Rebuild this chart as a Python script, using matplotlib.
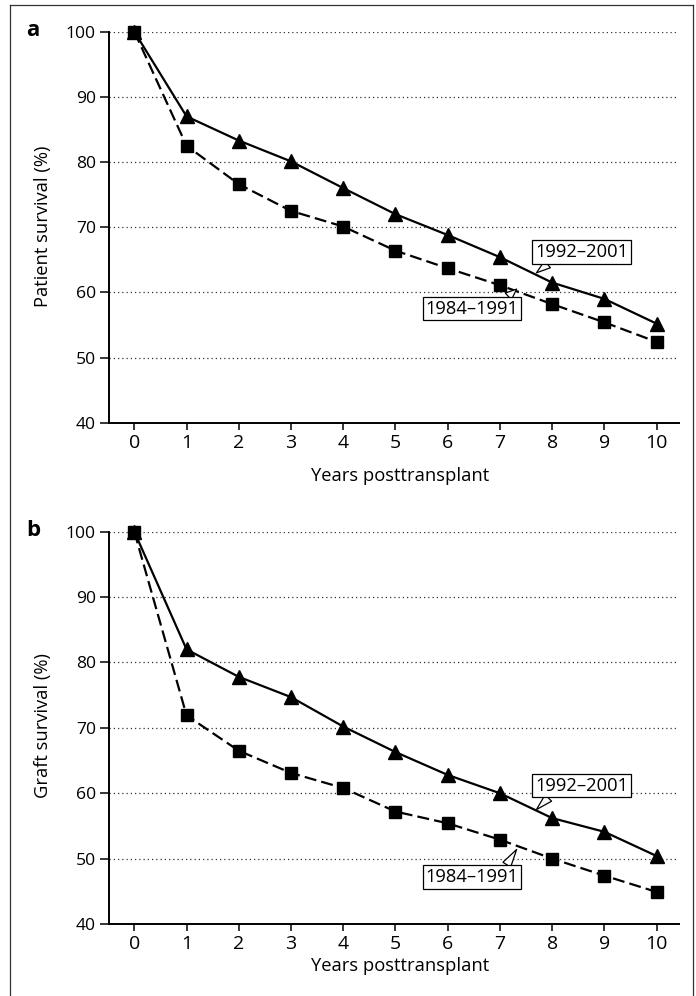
import matplotlib
matplotlib.use("Agg")
import matplotlib.pyplot as plt
from matplotlib.lines import Line2D

plt.rcParams['font.family'] = ['Open Sans', 'DejaVu Sans']

years = [0, 1, 2, 3, 4, 5, 6, 7, 8, 9, 10]
patient_1992_2001 = [100, 87.0, 83.3, 80.1, 76.0, 72.0, 68.8, 65.4, 61.5, 59.0, 55.2]
patient_1984_1991 = [100, 82.5, 76.6, 72.5, 70.1, 66.4, 63.7, 61.1, 58.2, 55.4, 52.4]
graft_1992_2001 = [100, 82.0, 77.8, 74.7, 70.2, 66.3, 62.8, 60.0, 56.2, 54.1, 50.4]
graft_1984_1991 = [100, 71.9, 66.5, 63.1, 60.8, 57.2, 55.4, 52.9, 50.0, 47.4, 44.9]
yticks = [40, 50, 60, 70, 80, 90, 100]
label_new = "1992\u20132001"
label_old = "1984\u20131991"

W, H = 696, 996
fig = plt.figure(figsize=(W / 100, H / 100), dpi=100)

YFS = 12.6
XFS = 14
LFS = 13.2
BOXFS = 13.2

def px(x, y):
    return x / W, 1 - y / H

def make_axes(top_px, bottom_px):
    left, right = 109, 679.3
    ax = fig.add_axes([left / W, 1 - bottom_px / H, (right - left) / W, (bottom_px - top_px) / H])
    ax.set_xlim(-0.485, 10.435)
    ax.set_ylim(40, 100)
    ax.set_xticks(years)
    ax.set_yticks(yticks)
    for s in ['top', 'right']:
        ax.spines[s].set_visible(False)
    for s in ['left', 'bottom']:
        ax.spines[s].set_linewidth(1.4)
    ax.tick_params(axis='x', length=5, width=1.1, pad=3, labelsize=XFS, direction='out')
    ax.tick_params(axis='y', length=6.5, width=1.1, pad=3, labelsize=YFS, direction='out')
    for yv in yticks[1:]:
        ax.axhline(yv, color='#333333', lw=0.9, linestyle=(0, (1, 2.4)), zorder=1)
    return ax

def draw_series(ax, new, old):
    ax.plot(years, new, color='black', lw=1.6, marker='^', markersize=10.5,
            markerfacecolor='black', markeredgecolor='black', clip_on=False, zorder=4)
    ax.plot(years, old, color='black', lw=1.6, linestyle=(0, (5.4, 2.3)), marker='s',
            markersize=8.6, markerfacecolor='black', markeredgecolor='black',
            clip_on=False, zorder=5)

def callout(ax, text, xy, xytext, relpos):
    ax.annotate(text, xy=xy, xytext=xytext, textcoords='data', ha='center', va='center',
                fontsize=BOXFS, zorder=6,
                bbox=dict(boxstyle='square,pad=0.15', fc='white', ec='black', lw=0.9),
                arrowprops=dict(arrowstyle='wedge,tail_width=0.5,shrink_factor=0.5',
                                fc='white', ec='black', lw=0.9, relpos=relpos,
                                shrinkA=0, shrinkB=0))

# Panel a
ax1 = make_axes(31.7, 422.7)
draw_series(ax1, patient_1992_2001, patient_1984_1991)
callout(ax1, label_new, (7.70, 63.0), (8.56, 66.2), (0.18, 0.0))
callout(ax1, label_old, (7.32, 60.5), (6.47, 57.5), (0.85, 1.0))
fig.text(*px(43, 226), "Patient survival (%)", rotation=90, ha='center', va='center', fontsize=LFS)
fig.text(*px(400, 476), "Years posttransplant", ha='center', va='center', fontsize=LFS)
fig.text(*px(33, 31), "a", ha='center', va='center', fontsize=16, fontweight='bold')

# Panel b
ax2 = make_axes(531.7, 924)
draw_series(ax2, graft_1992_2001, graft_1984_1991)
callout(ax2, label_new, (7.70, 57.5), (8.56, 61.15), (0.18, 0.0))
callout(ax2, label_old, (7.32, 51.4), (6.47, 47.2), (0.85, 1.0))
fig.text(*px(43, 726), "Graft survival (%)", rotation=90, ha='center', va='center', fontsize=LFS)
fig.text(*px(400, 966), "Years posttransplant", ha='center', va='center', fontsize=LFS)
fig.text(*px(33, 531), "b", ha='center', va='center', fontsize=16, fontweight='bold')

# Outer frame (open at bottom)
fx0, fy0 = px(10, 5)
fx1, _ = px(692.7, 5)
frame_kw = dict(color='#333333', lw=0.9, transform=fig.transFigure)
fig.add_artist(Line2D([fx0, fx1], [fy0, fy0], **frame_kw))
fig.add_artist(Line2D([fx0, fx0], [fy0, -0.01], **frame_kw))
fig.add_artist(Line2D([fx1, fx1], [fy0, -0.01], **frame_kw))

fig.savefig("out.png", dpi=100)
